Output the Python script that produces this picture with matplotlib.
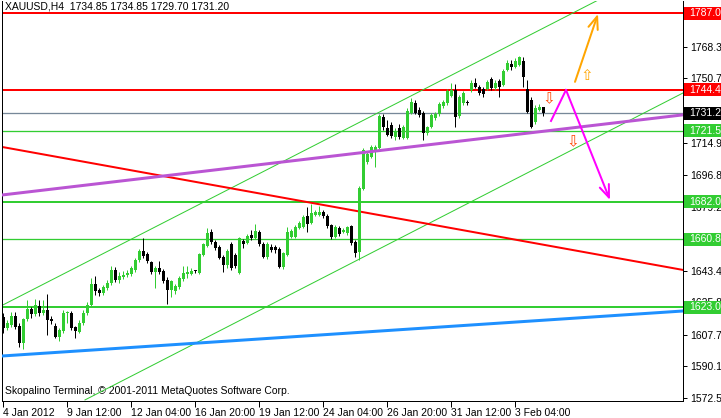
import matplotlib
matplotlib.use("Agg")
import matplotlib.pyplot as plt
from matplotlib.patches import Rectangle
from matplotlib.transforms import blended_transform_factory, offset_copy

# XAUUSD H4 candles, 4 Jan - 3 Feb 2012
opens = [1617.7, 1611.5, 1613.2, 1618.2, 1612.7, 1603.2, 1616.6, 1622.1, 1619.4, 1623.8,
         1619.9, 1621.6, 1616.6, 1612.7, 1606.5, 1609.9, 1619.9, 1619.9, 1612.1, 1609.3,
         1614.3, 1619.9, 1624.4, 1636.1, 1632.7, 1631.1, 1633.9, 1636.6, 1643.9, 1638.3,
         1640.0, 1641.1, 1641.7, 1643.9, 1649.5, 1654.5, 1652.8, 1648.4, 1642.8, 1645.0,
         1643.3, 1638.3, 1632.7, 1632.2, 1634.4, 1638.9, 1641.7, 1641.7, 1643.3, 1642.2,
         1652.3, 1657.3, 1665.1, 1659.5, 1656.7, 1651.1, 1646.7, 1658.4, 1652.3, 1642.2,
         1660.1, 1659.0, 1663.4, 1661.7, 1665.1, 1658.4, 1651.1, 1656.7, 1656.7, 1655.6,
         1645.6, 1652.3, 1662.3, 1662.3, 1667.3, 1667.9, 1674.0, 1670.1, 1674.6, 1674.6,
         1676.2, 1674.0, 1669.0, 1662.3, 1667.3, 1665.1, 1664.5, 1668.4, 1659.5, 1653.9,
         1689.1, 1704.1, 1706.9, 1709.7, 1711.9, 1729.2, 1723.1, 1724.8, 1718.1, 1723.1,
         1717.5, 1717.5, 1731.5, 1737.0, 1733.1, 1731.5, 1720.3, 1723.7, 1728.7, 1730.9,
         1735.4, 1737.0, 1740.9, 1744.3, 1729.8, 1737.0, 1737.6, 1744.3, 1748.2, 1746.0,
         1744.9, 1744.9, 1750.4, 1745.4, 1749.3, 1747.1, 1755.5, 1758.8, 1757.1, 1758.2,
         1760.5, 1744.9, 1738.7, 1726.4, 1733.1, 1734.85]
highs = [1619.9, 1616.0, 1620.5, 1620.5, 1614.3, 1617.1, 1627.2, 1623.3, 1627.7, 1627.2,
         1627.2, 1630.5, 1618.2, 1614.3, 1611.5, 1621.6, 1621.0, 1621.0, 1612.7, 1616.0,
         1621.6, 1626.0, 1639.4, 1640.5, 1633.9, 1635.5, 1638.3, 1646.1, 1645.6, 1642.8,
         1643.3, 1643.9, 1646.1, 1650.6, 1655.6, 1661.7, 1653.9, 1648.9, 1646.1, 1648.9,
         1644.4, 1640.0, 1638.3, 1636.1, 1640.5, 1646.1, 1646.1, 1645.0, 1643.9, 1653.4,
         1659.0, 1667.3, 1666.8, 1660.6, 1657.8, 1652.3, 1655.6, 1659.5, 1653.4, 1662.3,
         1661.2, 1664.0, 1666.2, 1669.6, 1666.2, 1659.5, 1659.5, 1658.4, 1657.8, 1656.7,
         1653.9, 1667.9, 1666.8, 1669.0, 1671.2, 1674.6, 1679.0, 1680.7, 1677.4, 1679.6,
         1677.4, 1675.1, 1669.6, 1669.0, 1668.4, 1667.3, 1668.4, 1669.0, 1660.6, 1690.7,
         1711.9, 1709.7, 1713.6, 1713.6, 1730.9, 1730.9, 1727.6, 1726.4, 1723.1, 1725.3,
         1724.8, 1734.3, 1739.8, 1738.7, 1734.8, 1732.6, 1724.2, 1731.5, 1732.0, 1737.6,
         1738.7, 1744.9, 1748.2, 1747.6, 1741.5, 1743.7, 1738.7, 1749.9, 1751.0, 1747.1,
         1746.0, 1749.9, 1751.6, 1749.9, 1750.4, 1756.0, 1761.0, 1761.0, 1762.1, 1763.3,
         1762.7, 1749.9, 1740.4, 1735.9, 1736.5, 1734.85]
lows = [1608.8, 1610.4, 1612.1, 1611.0, 1600.9, 1599.8, 1615.4, 1617.1, 1618.2, 1618.2,
        1618.8, 1607.6, 1613.8, 1606.0, 1604.3, 1608.8, 1614.3, 1610.4, 1606.0, 1608.8,
        1613.2, 1618.8, 1623.8, 1630.0, 1629.4, 1630.0, 1632.7, 1635.5, 1637.2, 1636.6,
        1638.9, 1640.0, 1640.5, 1642.8, 1648.4, 1650.6, 1647.8, 1641.7, 1633.9, 1641.7,
        1636.6, 1624.9, 1628.8, 1630.5, 1633.3, 1637.8, 1639.4, 1641.1, 1642.2, 1641.7,
        1651.7, 1656.7, 1658.4, 1655.1, 1650.0, 1642.8, 1645.0, 1643.9, 1645.0, 1641.7,
        1656.2, 1658.4, 1660.6, 1661.2, 1657.3, 1650.6, 1650.0, 1653.9, 1653.4, 1645.0,
        1644.4, 1651.7, 1661.7, 1661.7, 1666.8, 1667.3, 1665.1, 1669.6, 1674.0, 1674.0,
        1672.9, 1667.3, 1661.2, 1661.7, 1662.9, 1664.5, 1663.4, 1657.8, 1651.1, 1649.5,
        1688.5, 1703.0, 1706.4, 1701.3, 1711.4, 1722.0, 1718.6, 1717.5, 1716.4, 1717.0,
        1717.0, 1717.0, 1730.9, 1730.9, 1729.2, 1716.4, 1719.2, 1723.1, 1727.6, 1729.8,
        1734.3, 1735.9, 1740.4, 1723.7, 1728.7, 1735.9, 1735.9, 1743.2, 1745.4, 1741.5,
        1740.4, 1744.3, 1744.3, 1744.3, 1740.4, 1746.5, 1754.9, 1755.5, 1756.6, 1757.7,
        1746.0, 1731.5, 1723.1, 1725.3, 1732.6, 1729.70]
closes = [1611.5, 1614.3, 1618.2, 1612.1, 1603.2, 1616.6, 1622.1, 1619.4, 1624.4, 1619.9,
          1621.6, 1616.0, 1615.4, 1606.5, 1610.4, 1619.9, 1620.5, 1611.5, 1609.9, 1614.3,
          1619.9, 1624.4, 1636.1, 1632.2, 1631.1, 1634.4, 1636.6, 1643.9, 1638.3, 1640.5,
          1641.1, 1642.2, 1645.0, 1649.5, 1654.5, 1651.7, 1648.9, 1642.8, 1645.0, 1642.8,
          1637.8, 1632.7, 1637.8, 1635.0, 1639.4, 1642.2, 1642.8, 1643.3, 1643.2, 1652.8,
          1658.4, 1664.5, 1659.5, 1656.2, 1650.6, 1646.7, 1654.5, 1645.0, 1646.1, 1661.7,
          1658.4, 1662.9, 1661.7, 1665.6, 1658.4, 1651.1, 1658.4, 1655.1, 1655.1, 1645.6,
          1653.4, 1665.1, 1665.6, 1667.9, 1670.1, 1673.5, 1669.6, 1675.7, 1676.2, 1676.2,
          1674.0, 1668.4, 1662.3, 1667.9, 1664.0, 1666.2, 1667.9, 1659.0, 1653.4, 1689.6,
          1710.8, 1708.6, 1712.5, 1712.5, 1729.8, 1723.7, 1719.2, 1718.6, 1721.4, 1718.1,
          1723.7, 1732.6, 1737.6, 1731.5, 1730.4, 1720.3, 1723.7, 1730.4, 1730.9, 1736.5,
          1737.6, 1743.7, 1744.3, 1729.2, 1740.4, 1742.6, 1737.0, 1748.2, 1746.0, 1742.6,
          1742.1, 1748.8, 1745.4, 1748.2, 1746.0, 1754.9, 1759.4, 1757.1, 1760.5, 1762.7,
          1751.6, 1732.0, 1723.7, 1734.3, 1734.8, 1731.20]

date_pos = [0, 16, 32, 48, 64, 80, 96, 112, 128]
date_labels = ["4 Jan 2012", "9 Jan 12:00", "12 Jan 04:00", "16 Jan 20:00", "19 Jan 12:00",
               "24 Jan 04:00", "26 Jan 20:00", "31 Jan 12:00", "3 Feb 04:00"]
price_ticks = [1572.50, 1590.10, 1607.70, 1625.85, 1643.45, 1661.05, 1679.20,
               1696.80, 1714.95, 1732.55, 1750.70, 1768.30]

# horizontal levels
levels = [1787.06, 1744.43, 1731.20, 1721.52, 1682.00, 1660.89, 1623.00]
level_line = ["#ff0000", "#ff0000", "#778899", "#32cd32", "#32cd32", "#32cd32", "#32cd32"]
level_box = ["#ff0000", "#ff0000", "#000000", "#32cd32", "#32cd32", "#32cd32", "#32cd32"]
level_px = [2, 2, 1.3, 1.3, 2, 1.3, 2]

# trend lines: (bar index pair, price pair)
chan_up_x, chan_up_y = [0, 152], [1624.4, 1798.1]
chan_lo_x, chan_lo_y = [20.5, 170], [1571.4, 1742.6]
purple_x, purple_y = [-0.25, 170], [1685.7, 1730.4]
red_x, red_y = [-0.25, 170], [1712.5, 1643.9]
blue_x, blue_y = [-0.25, 170], [1595.9, 1621.0]
# projection arrows
mag_x, mag_y = [137, 140.75, 151.75], [1727.0, 1744.3, 1682.9]
org_x, org_y = [143, 148.75], [1748.8, 1786.7]

GREEN = "#32cd32"
PX = 0.72  # one pixel in points
plt.rcParams["font.family"] = ["Liberation Sans", "DejaVu Sans"]

fig = plt.figure(figsize=(7.21, 4.18), dpi=100)
W, H = 721.0, 418.0
ax = fig.add_axes([2 / W, (418 - 401) / H, (683 - 2) / W, (401 - 1) / H])
ax.set_xlim(-0.25, 170)
ax.set_ylim(1570.8, 1793.9)

# levels
for lv, c, lw in zip(levels, level_line, level_px):
    ax.axhline(lv, color=c, lw=lw * PX, zorder=2)

ax.plot(chan_up_x, chan_up_y, color=GREEN, lw=PX, zorder=2)
ax.plot(chan_lo_x, chan_lo_y, color=GREEN, lw=PX, zorder=2)
ax.plot(red_x, red_y, color="#ff0000", lw=2 * PX, zorder=2)

# candles
for i in range(len(closes)):
    o, h, l, c = opens[i], highs[i], lows[i], closes[i]
    col = GREEN if c > o else "black"
    ax.vlines(i, l, h, color=col, lw=PX, zorder=3)
    ax.bar(i, max(abs(c - o), 0.4), bottom=min(o, c), width=0.75, color=col,
           edgecolor="none", zorder=3)

ax.plot(purple_x, purple_y, color="#ba55d3", lw=3 * PX, zorder=4)
ax.plot(blue_x, blue_y, color="#1e90ff", lw=3 * PX, zorder=4)

ax.plot(mag_x[:-1], mag_y[:-1], color="#ff00ff", lw=2 * PX, zorder=5)
ax.annotate("", xy=(mag_x[-1], mag_y[-1]), xytext=(mag_x[-2], mag_y[-2]),
            arrowprops=dict(arrowstyle="->,head_length=0.9,head_width=0.35",
                            color="#ff00ff", lw=2 * PX, shrinkA=0, shrinkB=0), zorder=5)
ax.annotate("", xy=(org_x[1], org_y[1]), xytext=(org_x[0], org_y[0]),
            arrowprops=dict(arrowstyle="->,head_length=0.9,head_width=0.35",
                            color="#ffa500", lw=2 * PX, shrinkA=0, shrinkB=0), zorder=5)

# small hollow arrows
ax.text(136.5, 1739.5, "\u21e9", color="#ff4500", fontsize=11, ha="center", va="center",
        family="DejaVu Sans", zorder=6)
ax.text(142.5, 1715.5, "\u21e9", color="#ff4500", fontsize=11, ha="center", va="center",
        family="DejaVu Sans", zorder=6)
ax.text(146, 1752.5, "\u21e7", color="#ffa500", fontsize=11, ha="center", va="center",
        family="DejaVu Sans", zorder=6)

# texts in chart
ax.text(0.004, 0.998, "XAUUSD,H4  1734.85 1734.85 1729.70 1731.20", transform=ax.transAxes,
        ha="left", va="top", fontsize=7.5, zorder=1)
ax.text(0.004, 0.012, "Skopalino Terminal, \u00a9 2001-2011 MetaQuotes Software Corp.",
        transform=ax.transAxes, ha="left", va="bottom", fontsize=7.5, zorder=1)

# axes look
ax.spines["top"].set_visible(False)
for s in ["left", "right", "bottom"]:
    ax.spines[s].set_linewidth(PX)
ax.yaxis.tick_right()
ax.set_yticks(price_ticks)
ax.set_yticklabels(["%.2f" % p for p in price_ticks])
ax.set_xticks(date_pos)
ax.set_xticklabels(date_labels, ha="left")
ax.tick_params(axis="y", direction="out", length=3, width=PX, pad=2, labelsize=7.5)
ax.tick_params(axis="x", direction="out", length=4, width=PX, pad=1, labelsize=7.5)

# level price boxes on the right scale
bt = blended_transform_factory(fig.transFigure, ax.transData)
tt = offset_copy(blended_transform_factory(ax.transAxes, ax.transData), fig=fig,
                 x=4.3, units="points")
for lv, bc in zip(levels, level_box):
    ax.add_patch(Rectangle((684 / W, lv - 3.6), 37 / W, 7.3, transform=bt,
                           facecolor=bc, edgecolor="none", clip_on=False, zorder=10))
    ax.text(1.0, lv, "%.2f" % lv, transform=tt, color="white", fontsize=7.5,
            ha="left", va="center", clip_on=False, zorder=11)

fig.savefig("out.png", dpi=100)
